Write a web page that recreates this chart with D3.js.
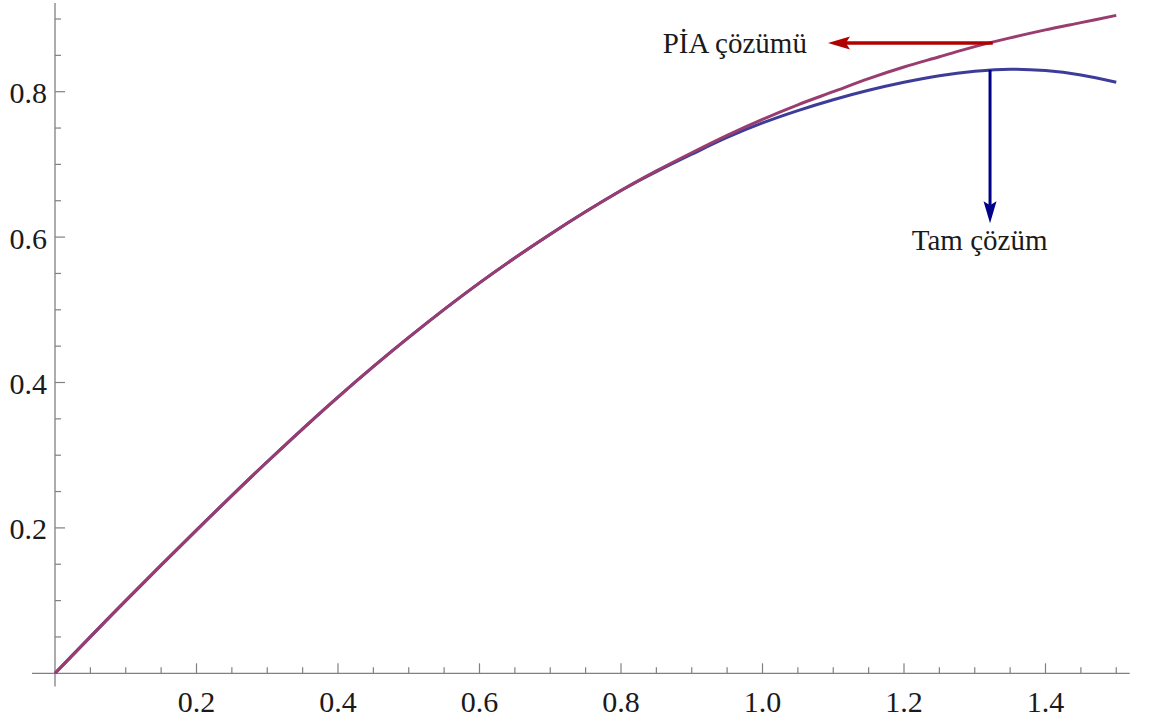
<!DOCTYPE html>
<html lang="tr">
<head>
    <meta charset="UTF-8">
    <title>PİA çözümü ve tam çözüm</title>
    <script src="https://d3js.org/d3.v7.min.js"></script>
    <style>
        body { margin: 0; background: #fff; }
        text { font-family: "Liberation Serif", "Times New Roman", serif; fill: #1a1a1a; }
    </style>
</head>
<body>
<div id="chart"></div>
<script>
    // values
    const xs = [0, 0.1, 0.2, 0.3, 0.4, 0.5, 0.6, 0.7, 0.8, 0.85, 0.9, 0.95, 1.0, 1.05, 1.1, 1.15, 1.2, 1.25, 1.3, 1.35, 1.4, 1.45, 1.5];
    const piaValues = [0, 0.100, 0.197, 0.291, 0.380, 0.462, 0.537, 0.604, 0.664, 0.691, 0.716, 0.740, 0.762, 0.782, 0.800, 0.818, 0.834, 0.848, 0.862, 0.874, 0.885, 0.895, 0.905];
    const exactValues = [0, 0.100, 0.197, 0.291, 0.380, 0.462, 0.537, 0.604, 0.664, 0.690, 0.714, 0.737, 0.757, 0.774, 0.789, 0.802, 0.813, 0.822, 0.828, 0.831, 0.829, 0.823, 0.813];
    const xTickLabels = [0.2, 0.4, 0.6, 0.8, 1.0, 1.2, 1.4];
    const yTickLabels = [0.2, 0.4, 0.6, 0.8];
    const labels = ["PİA çözümü", "Tam çözüm"];

    const width = 1154;
    const height = 724;

    const svg = d3.select("#chart").append("svg")
        .attr("width", width)
        .attr("height", height);

    const x = d3.scaleLinear().domain([0, 1.5]).range([55, 1116.25]);
    const y = d3.scaleLinear().domain([0, 0.8]).range([673.3, 91.7]);

    const axisColor = "#808080";

    // x axis
    const xMinor = d3.range(1, 31).map(i => i * 0.05);
    const gx = svg.append("g");
    gx.append("line")
        .attr("x1", x(-0.0325)).attr("x2", x(1.519))
        .attr("y1", y(0)).attr("y2", y(0))
        .attr("stroke", axisColor).attr("stroke-width", 1.3);
    gx.selectAll("line.tick")
        .data(xMinor)
        .enter().append("line")
        .attr("class", "tick")
        .attr("x1", d => x(d)).attr("x2", d => x(d))
        .attr("y1", y(0))
        .attr("y2", d => y(0) - (Math.abs(d / 0.2 - Math.round(d / 0.2)) < 1e-6 ? 10 : 6))
        .attr("stroke", axisColor).attr("stroke-width", 1.2);
    gx.selectAll("text")
        .data(xTickLabels)
        .enter().append("text")
        .attr("x", d => x(d))
        .attr("y", 712)
        .attr("text-anchor", "middle")
        .attr("font-size", 30)
        .text(d => d.toFixed(1));

    // y axis
    const yMinor = d3.range(1, 19).map(i => i * 0.05);
    const gy = svg.append("g");
    gy.append("line")
        .attr("x1", x(0)).attr("x2", x(0))
        .attr("y1", y(-0.018)).attr("y2", y(0.922))
        .attr("stroke", axisColor).attr("stroke-width", 1.3);
    gy.selectAll("line.tick")
        .data(yMinor)
        .enter().append("line")
        .attr("class", "tick")
        .attr("y1", d => y(d)).attr("y2", d => y(d))
        .attr("x1", x(0))
        .attr("x2", d => x(0) + (Math.abs(d / 0.2 - Math.round(d / 0.2)) < 1e-6 ? 10 : 6))
        .attr("stroke", axisColor).attr("stroke-width", 1.2);
    gy.selectAll("text")
        .data(yTickLabels)
        .enter().append("text")
        .attr("x", 47)
        .attr("y", d => y(d) + 11.5)
        .attr("text-anchor", "end")
        .attr("font-size", 30)
        .text(d => d.toFixed(1));

    // curves
    const line = d3.line()
        .x(d => x(d[0]))
        .y(d => y(d[1]))
        .curve(d3.curveCatmullRom.alpha(0.5));

    svg.append("path")
        .datum(xs.map((v, i) => [v, exactValues[i]]))
        .attr("fill", "none")
        .attr("stroke", "#3d3d99")
        .attr("stroke-width", 3)
        .attr("d", line);

    svg.append("path")
        .datum(xs.map((v, i) => [v, piaValues[i]]))
        .attr("fill", "none")
        .attr("stroke", "#993d71")
        .attr("stroke-width", 3)
        .attr("d", line);

    // arrows
    function arrow(x1, y1, x2, y2, color, w) {
        const ang = Math.atan2(y2 - y1, x2 - x1);
        const len = 22, half = 6.5, notch = 4;
        const g = svg.append("g");
        g.append("line")
            .attr("x1", x1).attr("y1", y1)
            .attr("x2", x2 - Math.cos(ang) * (len - notch)).attr("y2", y2 - Math.sin(ang) * (len - notch))
            .attr("stroke", color).attr("stroke-width", w);
        const ca = Math.cos(ang), sa = Math.sin(ang);
        const pt = (a, b) => [x2 + a * ca - b * sa, y2 + a * sa + b * ca];
        const pts = [pt(0, 0), pt(-len, half), pt(-len + notch, 0), pt(-len, -half)];
        g.append("path")
            .attr("d", "M" + pts.map(p => p.join(",")).join("L") + "Z")
            .attr("fill", color);
    }

    arrow(x(1.3255), y(0.867), x(1.0925), y(0.867), "#b00000", 3.5);
    arrow(x(1.3216), y(0.830), x(1.3216), y(0.619), "#000088", 3);

    svg.append("text")
        .attr("x", x(0.859)).attr("y", 52.5)
        .attr("font-size", 29)
        .text(labels[0]);
    svg.append("text")
        .attr("x", x(1.211)).attr("y", 250)
        .attr("font-size", 29)
        .text(labels[1]);
</script>
</body>
</html>
